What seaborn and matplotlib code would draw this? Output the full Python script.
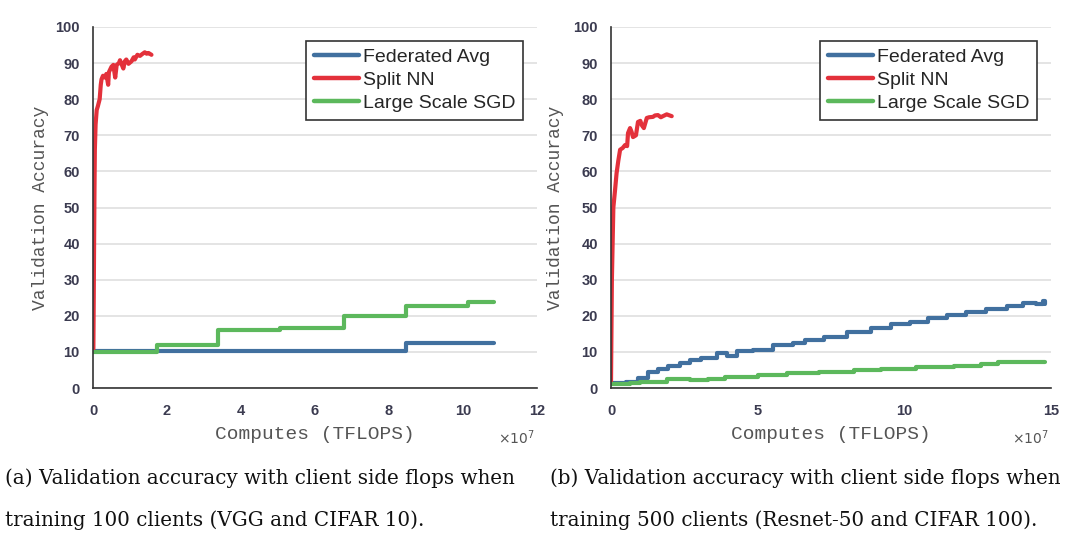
import matplotlib
matplotlib.use("Agg")
import matplotlib.pyplot as plt
import seaborn as sns
from matplotlib.ticker import MultipleLocator
from matplotlib.lines import Line2D

# ---------------- data (x in units of 1e7 TFLOPS) ----------------
labels = ["Federated Avg", "Split NN", "Large Scale SGD"]
colors = {"Federated Avg": "#41709f", "Split NN": "#e3313b", "Large Scale SGD": "#5cb85c"}

# panel (a): 100 clients, VGG / CIFAR 10
fed_x_a = [0, 8.47, 10.83]
fed_y_a = [10.3, 12.5, 12.5]
split_x_a = [0, 0.01, 0.02, 0.03, 0.04, 0.05, 0.07, 0.10, 0.13, 0.18, 0.21, 0.23, 0.27,
             0.32, 0.36, 0.41, 0.43, 0.50, 0.55, 0.60, 0.64, 0.70, 0.73, 0.78, 0.82, 0.86,
             0.90, 0.96, 1.04, 1.10, 1.13, 1.20, 1.27, 1.33, 1.40, 1.45, 1.50, 1.58]
split_y_a = [10, 11, 25, 41, 55, 66, 73, 77, 78, 80, 84, 85.5, 86.5,
             86, 87, 84, 87.5, 89, 89.5, 86, 89.5, 90, 90.8, 89.5, 88.5, 90.5,
             91, 89.8, 90.5, 91.6, 91, 92.3, 92, 92.5, 93, 92.6, 92.8, 92.3]
sgd_x_a = [0, 1.72, 3.37, 5.05, 6.78, 8.47, 10.13, 10.85]
sgd_y_a = [10, 11.9, 16.1, 16.75, 20.05, 22.8, 23.9, 23.9]

# panel (b): 500 clients, Resnet-50 / CIFAR 100
fed_x_b = [0, 0.5, 0.93, 1.27, 1.6, 1.94, 2.35, 2.7, 3.06, 3.6, 3.95, 4.3, 4.85, 5.53,
           6.2, 6.6, 7.26, 8.06, 8.86, 9.54, 10.2, 10.8, 11.46, 12.1, 12.8, 13.5, 14.05,
           14.5, 14.72, 14.78]
fed_y_b = [1.4, 1.6, 2.7, 4.5, 5.2, 6.2, 7.0, 7.8, 8.4, 9.6, 8.8, 10.2, 10.6, 12.0,
           12.6, 13.4, 14.2, 15.5, 16.7, 17.6, 18.3, 19.4, 20.3, 21.0, 22.0, 22.8, 23.5,
           23.2, 24.0, 23.3]
split_x_b = [0, 0.03, 0.08, 0.14, 0.19, 0.25, 0.31, 0.40, 0.48, 0.55, 0.58, 0.65, 0.70,
             0.75, 0.85, 0.92, 1.00, 1.05, 1.12, 1.22, 1.30, 1.43, 1.50, 1.60, 1.70,
             1.77, 1.90, 2.00, 2.07]
split_y_b = [1.5, 30, 50, 55, 59.5, 63, 66, 66.5, 67.3, 67, 70.6, 72, 71,
             69.5, 70, 73.7, 74, 72.8, 72, 74.8, 75, 75.1, 75.5, 75.6, 75,
             75.3, 75.8, 75.5, 75.3]
sgd_x_b = [0, 0.65, 1.0, 1.9, 2.7, 3.3, 3.9, 5.0, 6.0, 7.1, 8.3, 9.2, 10.4, 11.7,
           12.6, 13.2, 14.78]
sgd_y_b = [1.0, 1.4, 1.8, 2.5, 2.1, 2.5, 3.0, 3.5, 4.1, 4.4, 5.0, 5.4, 5.7, 6.2,
           6.7, 7.3, 7.3]

xticks_a = [0, 2, 4, 6, 8, 10, 12]
xticks_b = [0, 5, 10, 15]
yticks = [0, 10, 20, 30, 40, 50, 60, 70, 80, 90, 100]

captions = [
    ["(a) Validation accuracy with client side flops when",
     "training 100 clients (VGG and CIFAR 10)."],
    ["(b) Validation accuracy with client side flops when",
     "training 500 clients (Resnet-50 and CIFAR 100)."],
]

# ---------------- style ----------------
sns.set_style("white")
plt.rcParams["font.family"] = ["Liberation Sans", "DejaVu Sans"]

fig = plt.figure(figsize=(10.8, 5.4), dpi=100)
axA = fig.add_axes([93 / 1080, 1 - 388 / 540, 444 / 1080, 361 / 540])
axB = fig.add_axes([611 / 1080, 1 - 388 / 540, 440 / 1080, 361 / 540])

LW = 3.0
tick_col = "#333333"
lab_col = "#3b3b50"

def draw(ax, fx, fy, sx, sy, gx, gy, xmax, xticks, minor_x, ylab_x):
    sns.lineplot(x=fx, y=fy, ax=ax, color=colors["Federated Avg"], lw=LW,
                 drawstyle="steps-post", estimator=None, sort=False, legend=False)
    sns.lineplot(x=sx, y=sy, ax=ax, color=colors["Split NN"], lw=LW,
                 estimator=None, sort=False, legend=False)
    sns.lineplot(x=gx, y=gy, ax=ax, color=colors["Large Scale SGD"], lw=LW,
                 drawstyle="steps-post", estimator=None, sort=False, legend=False)
    ax.set_xlim(0, xmax)
    ax.set_ylim(0, 100)
    ax.set_xticks(xticks)
    ax.set_xticklabels([str(t) for t in xticks])
    ax.set_yticks(yticks)
    ax.xaxis.set_minor_locator(MultipleLocator(minor_x))
    ax.yaxis.set_minor_locator(MultipleLocator(2))
    ax.yaxis.grid(True, which="major", color="#e2e2e2", lw=1.3)
    ax.xaxis.grid(False)
    ax.set_axisbelow(True)
    sns.despine(ax=ax)
    for s in ("left", "bottom"):
        ax.spines[s].set_color(tick_col)
        ax.spines[s].set_linewidth(1.2)
    ax.tick_params(axis="both", which="major", direction="out", length=5.5, width=1.0,
                   color=tick_col, labelsize=10.5, labelcolor=lab_col)
    ax.tick_params(axis="both", which="minor", direction="out", length=3.2, width=0.9,
                   color=tick_col)
    ax.tick_params(axis="x", which="major", pad=6)
    ax.tick_params(axis="y", which="major", pad=4)
    for t in ax.get_xticklabels() + ax.get_yticklabels():
        t.set_fontweight("bold")
    ax.set_xlabel("Computes (TFLOPS)", family="Liberation Mono", fontsize=14, color="#555555")
    ax.set_ylabel("Validation Accuracy", family="Liberation Mono", fontsize=13, color="#555555")
    ax.xaxis.set_label_coords(0.5, -0.105)
    ax.yaxis.set_label_coords(ylab_x, 0.5)
    ax.text(0.995, -0.112, r"$\times10^7$", transform=ax.transAxes, ha="right", va="top",
            fontsize=10, color="#555555")
    handles = [Line2D([0], [0], color=colors[l], lw=3.2) for l in labels]
    leg = ax.legend(handles, labels, loc="upper right", frameon=True, fancybox=False,
                    edgecolor="#333333", framealpha=1, fontsize=14, handlelength=2.3,
                    handletextpad=0.2, labelspacing=0.28, borderpad=0.4,
                    borderaxespad=0, bbox_to_anchor=(0.968, 0.962))
    leg.get_frame().set_linewidth(1.2)

draw(axA, fed_x_a, fed_y_a, split_x_a, split_y_a, sgd_x_a, sgd_y_a, 12, xticks_a, 0.5, -0.099)
draw(axB, fed_x_b, fed_y_b, split_x_b, split_y_b, sgd_x_b, sgd_y_b, 15, xticks_b, 1, -0.107)

# captions
cap_font = dict(family="DejaVu Serif", fontsize=14.3, color="#111111", va="center", ha="left")
fig.text(5 / 1080, 1 - 478 / 540, captions[0][0], **cap_font)
fig.text(5 / 1080, 1 - 520 / 540, captions[0][1], **cap_font)
fig.text(550 / 1080, 1 - 478 / 540, captions[1][0], **cap_font)
fig.text(550 / 1080, 1 - 520 / 540, captions[1][1], **cap_font)

fig.savefig("out.png", dpi=100)
